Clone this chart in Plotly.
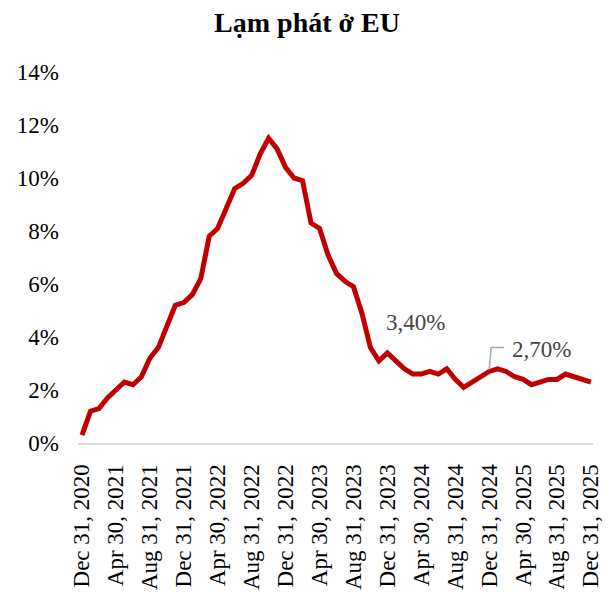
import plotly.graph_objects as go
import pandas as pd

# Lạm phát EU theo tháng, Dec 2020 -> Dec 2025 (%)
months = pd.date_range("2020-12-31", "2025-12-31", freq="ME").strftime("%b %d, %Y").tolist()
inflation = [0.3,
             1.2, 1.3, 1.7, 2.0, 2.3, 2.2, 2.5, 3.2, 3.6, 4.4, 5.2, 5.3,
             5.6, 6.2, 7.8, 8.1, 8.8, 9.6, 9.8, 10.1, 10.9, 11.5, 11.1, 10.4,
             10.0, 9.9, 8.3, 8.1, 7.1, 6.4, 6.1, 5.9, 4.9, 3.6, 3.1, 3.4,
             3.1, 2.8, 2.6, 2.6, 2.7, 2.6, 2.8, 2.4, 2.1, 2.3, 2.5, 2.7,
             2.8, 2.7, 2.5, 2.4, 2.2, 2.3, 2.4, 2.4, 2.6, 2.5, 2.4, 2.3]
tick_labels = months[::4]
label_months = ["Dec 31, 2023", "Dec 31, 2024"]
label_texts = ["3,40%", "2,70%"]

serif = "Liberation Serif, Times New Roman, serif"

fig = go.Figure(go.Scatter(x=months, y=inflation, mode="lines",
                           line=dict(color="#C00000", width=5),
                           hoverinfo="skip", showlegend=False))

# nhãn giá trị
v0 = inflation[months.index(label_months[0])]
fig.add_annotation(x=label_months[0], y=v0, text=label_texts[0], showarrow=False,
                   xanchor="left", yanchor="middle", xshift=-3, yshift=30,
                   font=dict(family=serif, size=23, color="#454545"))
v1 = inflation[months.index(label_months[1])]
fig.add_annotation(x=label_months[1], y=v1, text=label_texts[1], showarrow=False,
                   xanchor="left", yanchor="middle", xshift=21, yshift=22,
                   font=dict(family=serif, size=23, color="#454545"))
fig.add_shape(type="path", xref="x", yref="y", xsizemode="pixel", ysizemode="pixel",
              xanchor=months.index(label_months[1]), yanchor=v1,
              path="M 0,2 L 2,24 L 15,24", line=dict(color="#A6A6A6", width=1.5))

fig.update_layout(
    width=614, height=592,
    margin=dict(l=78, r=21, t=72, b=149),
    paper_bgcolor="white", plot_bgcolor="white",
    title=dict(text="<b>Lạm phát ở EU</b>", x=0.5, xanchor="center",
               y=0.963, yanchor="middle", yref="container",
               font=dict(family=serif, size=28, color="black")),
    font=dict(family=serif, color="black"),
)
fig.update_xaxes(type="category", range=[-0.47, len(months) - 0.76],
                 tickmode="array", tickvals=tick_labels, ticktext=tick_labels,
                 tickangle=-90, tickfont=dict(family=serif, size=23, color="black"),
                 showgrid=False, showline=True, linecolor="#D9D9D9", linewidth=2,
                 ticks="", ticklabelstandoff=10, zeroline=False, automargin=False)
fig.update_yaxes(range=[0, 14], dtick=2, ticksuffix="%", showgrid=False,
                 zeroline=False, showline=False, ticks="",
                 tickfont=dict(family=serif, size=23, color="black"),
                 ticklabelstandoff=18, automargin=False)

fig.write_html("out.html", config={"displayModeBar": False},
               post_script="document.body.style.margin='0';")
